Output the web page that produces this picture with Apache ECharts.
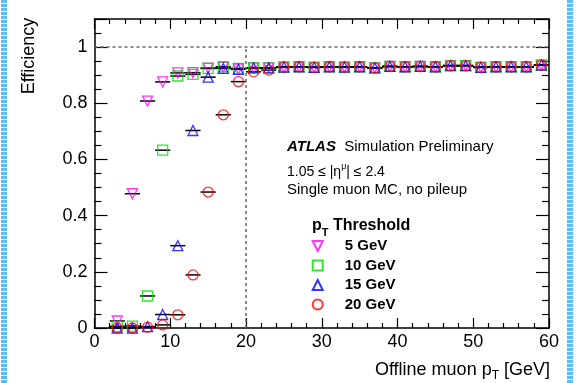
<!DOCTYPE html>
<html>
<head>
<meta charset="utf-8">
<title>Muon trigger efficiency</title>
<script src="https://cdn.jsdelivr.net/npm/echarts@6/dist/echarts.min.js"></script>
<style>
  html, body { margin: 0; padding: 0; background: #fff; }
  #chart { width: 577px; height: 383px; }
</style>
</head>
<body>
<div id="chart"></div>
<script>
// bin centres of offline muon pT [GeV], bins are 2 GeV wide
const ptBins = [3, 5, 7, 9, 11, 13, 15, 17, 19, 21, 23, 25, 27, 29, 31, 33, 35, 37, 39, 41, 43, 45, 47, 49, 51, 53, 55, 57, 59];
const binHalfWidth = 1;

const eff5GeV = [0.025, 0.478, 0.808, 0.876, 0.908, 0.909, 0.925, 0.928, 0.922,
  0.926, 0.926, 0.929, 0.930, 0.928, 0.930, 0.929, 0.930, 0.926, 0.931, 0.930, 0.931, 0.930, 0.934, 0.934, 0.928, 0.930, 0.930, 0.930, 0.936];
const eff10GeV = [0.006, 0.007, 0.114, 0.633, 0.897, 0.903, 0.924, 0.930, 0.924,
  0.926, 0.926, 0.929, 0.930, 0.928, 0.930, 0.929, 0.930, 0.926, 0.931, 0.930, 0.931, 0.930, 0.934, 0.934, 0.928, 0.930, 0.930, 0.930, 0.936];
const eff15GeV = [0.0, 0.0, 0.005, 0.048, 0.293, 0.703, 0.893, 0.924, 0.921,
  0.926, 0.926, 0.929, 0.930, 0.928, 0.930, 0.929, 0.930, 0.926, 0.931, 0.930, 0.931, 0.930, 0.934, 0.934, 0.928, 0.930, 0.930, 0.930, 0.936];
const eff20GeV = [0.0, 0.0, 0.003, 0.011, 0.047, 0.189, 0.484, 0.759, 0.877,
  0.912, 0.918, 0.929, 0.930, 0.928, 0.930, 0.929, 0.930, 0.926, 0.931, 0.930, 0.931, 0.930, 0.934, 0.934, 0.928, 0.930, 0.930, 0.930, 0.936];

const thresholdNames = ["5 GeV", "10 GeV", "15 GeV", "20 GeV"];
const xTicks = { min: 0, max: 60, interval: 10 };
const yTicks = { min: 0, max: 1.1, interval: 0.2 };

const font = "'Liberation Sans', Arial, Helvetica, sans-serif";
const downTriangle = "path://M0,0L10,0L5,10Z";

const styles = [
  { color: "#ff00ff", symbol: "triangle", rotate: 180, icon: downTriangle, values: eff5GeV },
  { color: "#00dd00", symbol: "rect", rotate: 0, icon: "rect", values: eff10GeV },
  { color: "#0000ff", symbol: "triangle", rotate: 0, icon: "triangle", values: eff15GeV },
  { color: "#ff0000", symbol: "circle", rotate: 0, icon: "circle", values: eff20GeV },
];

const chart = echarts.init(document.getElementById("chart"), null, { renderer: "canvas" });

// horizontal error bars (bin width)
const errorSeries = styles.map((s, i) => ({
  name: "err" + i,
  type: "custom",
  z: 2,
  silent: true,
  data: ptBins.map((x, j) => [x, s.values[j]]),
  renderItem: (params, api) => {
    const lo = api.coord([api.value(0) - binHalfWidth, api.value(1)]);
    const hi = api.coord([api.value(0) + binHalfWidth, api.value(1)]);
    return {
      type: "line",
      shape: { x1: lo[0], y1: lo[1], x2: hi[0], y2: hi[1] },
      style: { stroke: "#000", lineWidth: 1.5 },
    };
  },
}));

const markerSeries = styles.map((s, i) => ({
  name: thresholdNames[i],
  type: "scatter",
  z: 3,
  symbol: s.symbol,
  symbolRotate: s.rotate,
  symbolSize: 10,
  itemStyle: { color: "rgba(0,0,0,0)", borderColor: s.color, borderWidth: 1.3 },
  data: ptBins.map((x, j) => [x, s.values[j]]),
}));

// dashed guide lines at efficiency 1 and pT = 20 GeV
markerSeries[0].markLine = {
  silent: true,
  symbol: "none",
  label: { show: false },
  lineStyle: { color: "#666", type: [3, 3], width: 1.5 },
  data: [
    [{ coord: [0, 1] }, { coord: [60, 1] }],
    [{ coord: [20, 0] }, { coord: [20, 1] }],
  ],
};

const axisLine = { show: true, onZero: false, lineStyle: { color: "#000", width: 1.5 } };

const option = {
  backgroundColor: "#fff",
  animation: false,
  grid: { left: 94.5, right: 28, top: 19, bottom: 55 },
  xAxis: [
    {
      type: "value", ...xTicks, position: "bottom",
      axisLine,
      axisTick: { inside: true, length: 10, lineStyle: { color: "#000", width: 1.2 } },
      minorTick: { show: true, splitNumber: 5, length: 5, lineStyle: { color: "#000", width: 1.2 } },
      axisLabel: { margin: 5, fontSize: 18, color: "#000", fontFamily: font },
      splitLine: { show: false },
    },
    {
      type: "value", ...xTicks, position: "top",
      axisLine,
      axisTick: { inside: true, length: 10, lineStyle: { color: "#000", width: 1.2 } },
      minorTick: { show: true, splitNumber: 5, length: 5, lineStyle: { color: "#000", width: 1.2 } },
      axisLabel: { show: false },
      splitLine: { show: false },
    },
  ],
  yAxis: [
    {
      type: "value", ...yTicks, position: "left",
      axisLine,
      axisTick: { inside: true, length: 13, lineStyle: { color: "#000", width: 1.2 } },
      minorTick: { show: true, splitNumber: 4, length: 7, lineStyle: { color: "#000", width: 1.2 } },
      axisLabel: { margin: 7, fontSize: 18, color: "#000", fontFamily: font, showMaxLabel: false },
      splitLine: { show: false },
    },
    {
      type: "value", ...yTicks, position: "right",
      axisLine,
      axisTick: { inside: true, length: 13, lineStyle: { color: "#000", width: 1.2 } },
      minorTick: { show: true, splitNumber: 4, length: 7, lineStyle: { color: "#000", width: 1.2 } },
      axisLabel: { show: false },
      splitLine: { show: false },
    },
  ],
  legend: {
    orient: "vertical",
    left: 311.7,
    top: 238,
    padding: 0,
    itemWidth: 10,
    itemHeight: 10,
    itemGap: 3.5,
    data: thresholdNames.map((name, i) => ({ name, icon: styles[i].icon })),
    textStyle: { fontSize: 15, fontWeight: "bold", color: "#000", fontFamily: font, lineHeight: 16, padding: [0, 0, 0, 17] },
  },
  graphic: [
    {
      type: "text", x: 29, y: 56, rotation: Math.PI / 2,
      style: { text: "Efficiency", font: "18px " + font, fill: "#000", align: "center", verticalAlign: "middle" },
    },
    {
      type: "text", x: 550, y: 370,
      style: {
        text: "{a|Offline muon p}{s|T}{a| [GeV]}",
        align: "right", verticalAlign: "middle",
        rich: {
          a: { fontSize: 18, fontFamily: font, fill: "#000" },
          s: { fontSize: 12, fontFamily: font, fill: "#000", padding: [12, 0, 0, 0] },
        },
      },
    },
    {
      type: "text", x: 287, y: 147,
      style: {
        text: "{b|ATLAS}{r|  Simulation Preliminary}",
        verticalAlign: "middle",
        rich: {
          b: { fontSize: 15, fontWeight: "bold", fontStyle: "italic", fontFamily: font, fill: "#000" },
          r: { fontSize: 15, fontFamily: font, fill: "#000" },
        },
      },
    },
    {
      type: "text", x: 287, y: 172,
      style: {
        text: "{r|1.05 ≤ |η}{u|μ}{r|| ≤ 2.4}",
        verticalAlign: "middle",
        rich: {
          r: { fontSize: 14, fontFamily: font, fill: "#000" },
          u: { fontSize: 9, fontFamily: font, fill: "#000", padding: [0, 0, 10, 0] },
        },
      },
    },
    {
      type: "text", x: 287, y: 190,
      style: { text: "Single muon MC, no pileup", font: "15px " + font, fill: "#000", verticalAlign: "middle" },
    },
    {
      type: "text", x: 312, y: 226,
      style: {
        text: "{b|p}{s|T}{b| Threshold}",
        verticalAlign: "middle",
        rich: {
          b: { fontSize: 16, fontWeight: "bold", fontFamily: font, fill: "#000" },
          s: { fontSize: 11, fontWeight: "bold", fontFamily: font, fill: "#000", padding: [14, 0, 0, 0] },
        },
      },
    },
    // light blue page edges of the source slide
    {
      type: "line", shape: { x1: 4, y1: 0, x2: 4, y2: 383 },
      style: { stroke: "#5cbcf2", lineWidth: 6, lineDash: [3, 1] },
    },
    {
      type: "line", shape: { x1: 570, y1: 0, x2: 570, y2: 383 },
      style: { stroke: "#5cbcf2", lineWidth: 6, lineDash: [3, 1] },
    },
  ],
  series: [...errorSeries, ...markerSeries],
};

chart.setOption(option);
</script>
</body>
</html>
